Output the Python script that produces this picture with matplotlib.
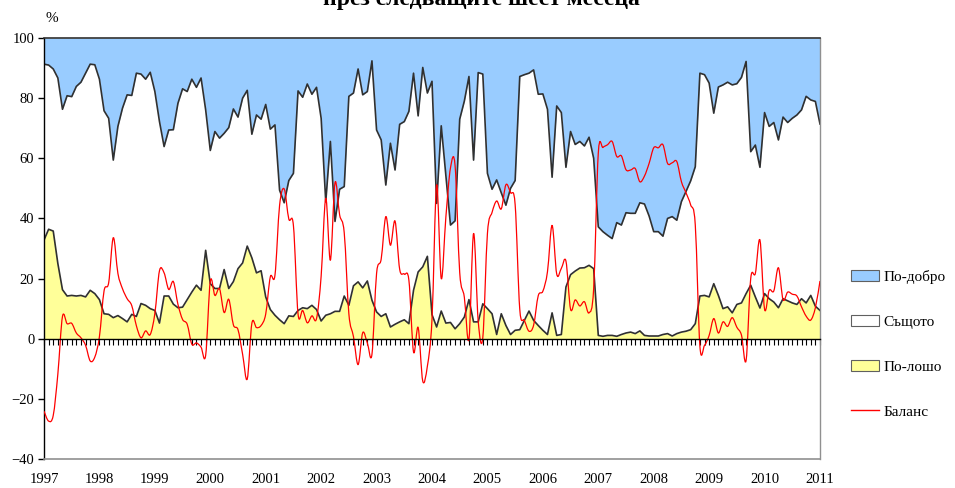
import numpy as np
import matplotlib
matplotlib.use("Agg")
import matplotlib.pyplot as plt
from matplotlib.path import Path
from matplotlib.patches import PathPatch, Patch
from matplotlib.lines import Line2D

plt.rcParams['font.family'] = ['Liberation Serif', 'DejaVu Serif']

# monthly shares, Jan 1997 .. Jan 2011 (%)
better = [
    8.7, 9.0, 10.3, 13.3, 23.7, 19.2, 19.5, 16.1, 14.7, 11.7, 8.7, 8.9,
    13.7, 24.2, 26.7, 40.6, 29.4, 23.3, 18.9, 19.1, 11.7, 12.0, 13.7, 11.4,
    17.8, 27.8, 36.1, 30.6, 30.5, 21.7, 16.9, 17.8, 13.7, 16.4, 13.3, 23.9,
    37.4, 31.1, 33.3, 31.7, 29.8, 23.6, 26.3, 20.0, 17.4, 32.0, 25.6, 27.0,
    22.1, 30.3, 28.9, 50.6, 54.8, 47.4, 45.0, 17.6, 19.7, 15.3, 18.7, 16.4,
    26.7, 54.5, 34.4, 61.0, 50.3, 49.4, 19.4, 18.3, 10.3, 18.9, 17.8, 7.6,
    30.6, 33.9, 48.9, 35.0, 43.9, 28.7, 27.8, 24.4, 11.7, 25.9, 9.8, 18.3,
    14.4, 55.0, 29.2, 45.6, 62.2, 60.8, 27.0, 21.0, 12.8, 40.6, 11.5, 12.0,
    45.0, 50.3, 47.2, 51.5, 55.6, 50.0, 47.4, 12.8, 12.2, 11.7, 10.6, 18.7,
    18.6, 23.7, 46.3, 22.6, 24.8, 43.0, 31.1, 35.4, 34.4, 35.9, 33.0, 40.0,
    62.8, 64.4, 65.6, 66.7, 61.4, 62.2, 58.1, 58.3, 58.3, 54.8, 55.2, 59.2,
    64.4, 64.4, 65.9, 60.0, 59.4, 60.6, 54.4, 51.0, 47.5, 42.8, 11.7, 12.2,
    15.0, 25.0, 16.3, 15.6, 14.7, 15.6, 15.2, 13.1, 7.8, 37.8, 35.6, 43.0,
    24.8, 29.4, 28.1, 33.9, 26.3, 28.1, 26.7, 25.6, 23.9, 19.4, 20.6, 21.1,
    28.6,
]
worse = [
    32.8, 36.4, 35.8, 25.0, 16.3, 14.2, 14.4, 14.2, 14.4, 13.9, 16.1, 15.0,
    13.0, 8.3, 8.1, 7.0, 7.7, 6.7, 5.6, 8.1, 7.4, 11.7, 11.1, 10.0,
    9.4, 5.2, 14.2, 14.2, 11.5, 10.3, 10.5, 13.0, 15.5, 17.8, 16.1, 29.4,
    18.3, 16.7, 16.7, 23.0, 16.7, 19.0, 23.3, 25.2, 30.8, 26.9, 21.9, 22.6,
    13.9, 9.7, 7.8, 6.3, 5.0, 7.6, 7.4, 9.4, 10.3, 10.0, 11.1, 9.7,
    5.9, 7.8, 8.3, 9.1, 9.1, 14.2, 11.1, 17.6, 18.9, 16.9, 19.2, 12.8,
    8.9, 7.4, 8.3, 3.9, 4.8, 5.6, 6.3, 5.0, 16.1, 22.2, 23.9, 27.4,
    8.0, 3.9, 9.2, 5.2, 5.4, 3.3, 5.0, 7.2, 13.0, 5.6, 5.6, 11.6,
    10.0, 8.3, 1.4, 8.3, 4.4, 1.4, 2.8, 3.0, 6.1, 9.2, 6.1, 4.4,
    2.8, 1.4, 8.6, 1.1, 1.4, 17.2, 21.3, 22.5, 23.5, 23.6, 24.4, 23.3,
    1.1, 0.8, 1.1, 1.1, 0.8, 1.4, 1.9, 2.2, 1.7, 2.6, 1.1, 0.9,
    0.9, 0.9, 1.4, 1.7, 0.9, 1.7, 2.2, 2.5, 3.0, 5.0, 14.2, 14.4,
    13.9, 18.3, 14.4, 10.0, 10.6, 8.6, 11.4, 11.9, 15.0, 17.8, 13.9, 10.2,
    15.0, 13.3, 12.2, 10.3, 13.3, 12.6, 11.9, 11.4, 13.3, 11.9, 14.4, 10.8,
    9.4,
]
years = list(range(1997, 2012))
series_names = ['По-добро', 'Същото', 'По-лошо', 'Баланс']

better = np.array(better)
worse = np.array(worse)
same = 100 - better - worse
balance = better - worse
x = np.arange(len(better))

blue = '#99CCFF'
yellow = '#FFFF99'
edge = '#303030'

fig = plt.figure(figsize=(9.55, 4.88), dpi=100)
ax = fig.add_axes([44 / 955, 29 / 488, 776 / 955, 421 / 488])

# stacked areas
ax.fill_between(x, 0, worse, color=yellow, lw=0, zorder=1)
ax.fill_between(x, worse, worse + same, color='white', lw=0, zorder=1)
ax.fill_between(x, worse + same, 100, color=blue, lw=0, zorder=1)
ax.plot(x, worse, color=edge, lw=1.2, zorder=2)
ax.plot(x, worse + same, color=edge, lw=1.2, zorder=2)

# smoothed balance line (bezier through the points, like Excel)
pts = np.column_stack([x, balance]).astype(float)
verts = [pts[0]]
codes = [Path.MOVETO]
n = len(pts)
for i in range(n - 1):
    p0 = pts[i - 1] if i > 0 else pts[i]
    p1 = pts[i]
    p2 = pts[i + 1]
    p3 = pts[i + 2] if i + 2 < n else pts[i + 1]
    verts += [p1 + (p2 - p0) / 6, p2 - (p3 - p1) / 6, p2]
    codes += [Path.CURVE4] * 3
ax.add_patch(PathPatch(Path(verts, codes), facecolor='none', edgecolor='#FF0000',
                       lw=0.9, zorder=3))

ax.set_xlim(0, len(x) - 1)
ax.set_ylim(-40, 100)

# frame
ax.spines['bottom'].set_position(('data', 0))
ax.spines['bottom'].set_color('black')
ax.spines['bottom'].set_linewidth(1.0)
ax.spines['bottom'].set_zorder(4)
ax.spines['left'].set_color('black')
ax.spines['left'].set_linewidth(1.0)
ax.spines['top'].set_color(edge)
ax.spines['top'].set_linewidth(1.2)
ax.spines['right'].set_color('#909090')
ax.spines['right'].set_linewidth(1.0)
ax.axhline(-40, color='#909090', lw=1.2, zorder=4, clip_on=False)

ax.set_yticks(range(-40, 101, 20))
ax.tick_params(axis='y', direction='out', length=4, width=1, pad=3,
               labelsize=10.5, colors='black')
ax.set_xticks(x[::12])
ax.set_xticklabels([str(y) for y in years])
ax.set_xticks(x, minor=True)
ax.tick_params(axis='x', which='both', direction='out', length=4, width=0.8,
               pad=93, labelsize=10.5)

fig.text(52 / 955, 1 - 18 / 488, '%', fontsize=11, ha='center', va='center')
fig.text(481 / 955, 1 - 5 / 488, 'през следващите шест месеца', fontsize=17,
         fontweight='bold', ha='center', va='baseline')

handles = [
    Patch(facecolor=blue, edgecolor='#606060', lw=0.8),
    Patch(facecolor='white', edgecolor='#606060', lw=0.8),
    Patch(facecolor=yellow, edgecolor='#606060', lw=0.8),
    Line2D([0], [0], color='#FF0000', lw=1.0),
]
fig.legend(handles, series_names, loc='center left', bbox_to_anchor=(851 / 955, 0.295),
           frameon=False, fontsize=11, handlelength=1.8, handleheight=0.7,
           labelspacing=2.05, handletextpad=0.3, borderpad=0, borderaxespad=0)

fig.savefig('out.png', dpi=100)
